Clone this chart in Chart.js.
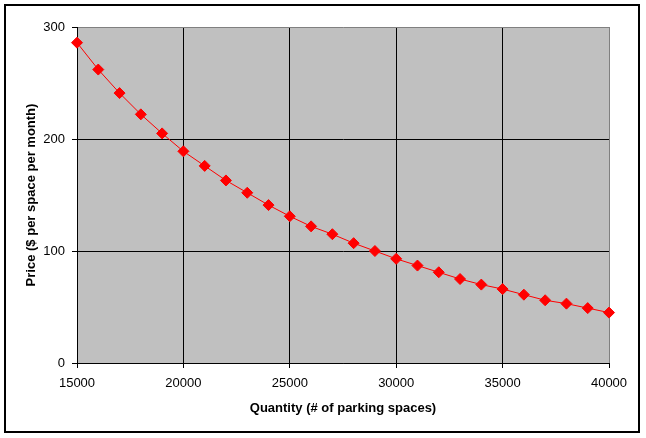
<!DOCTYPE html>
<html>
<head>
<meta charset="utf-8">
<script src="https://cdn.jsdelivr.net/npm/chart.js@4.4.1/dist/chart.umd.min.js"></script>
<style>
  html, body { margin: 0; padding: 0; background: #fff; }
  #wrap { width: 646px; height: 438px; position: relative; }
</style>
</head>
<body>
<div id="wrap"><canvas id="chartDemanda"></canvas></div>
<script>
// datos
const quantities = [15000,16000,17000,18000,19000,20000,21000,22000,23000,24000,25000,26000,27000,
  28000,29000,30000,31000,32000,33000,34000,35000,36000,37000,38000,39000,40000];
const prices = [286,262,241,222,205,189,176,163,152,141,131,122,115,
  107,100,93,87,81,75,70,66,61,56,53,49,45];
const xTicks = [15000,20000,25000,30000,35000,40000];
const yTicks = [0,100,200,300];

const FONT = 'Arial, "Liberation Sans", sans-serif';

const fondo = {
  id: 'fondo',
  beforeDraw(chart) {
    const { ctx, chartArea: a } = chart;
    ctx.save();
    ctx.fillStyle = '#fff';
    ctx.fillRect(0, 0, chart.width, chart.height);
    ctx.fillStyle = '#c0c0c0';
    ctx.fillRect(a.left, a.top, a.right - a.left, a.bottom - a.top);
    ctx.strokeStyle = '#000';
    ctx.lineWidth = 2;
    ctx.strokeRect(5, 5, 634, 427);
    ctx.restore();
  }
};

new Chart(document.getElementById('chartDemanda'), {
  type: 'scatter',
  data: {
    datasets: [{
      label: 'Demanda',
      data: quantities.map((q, i) => ({ x: q, y: prices[i] })),
      showLine: true,
      borderColor: '#ff0000',
      borderWidth: 1,
      backgroundColor: '#ff0000',
      pointStyle: 'rectRot',
      pointRadius: 5.5,
      pointBorderWidth: 1,
      pointBorderColor: '#ff0000',
      pointBackgroundColor: '#ff0000',
      clip: false,
    }]
  },
  options: {
    responsive: true,
    maintainAspectRatio: false,
    animation: false,
    layout: { padding: { left: 0, right: 37, top: 27, bottom: 0 } },
    plugins: { legend: { display: false }, tooltip: { enabled: false } },
    scales: {
      x: {
        type: 'linear',
        min: 15000, max: 40000,
        afterFit: s => { s.height = 75; },
        afterBuildTicks: s => { s.ticks = xTicks.map(v => ({ value: v })); },
        ticks: { color: '#000', font: { family: FONT, size: 13 }, padding: 8, maxRotation: 0, callback: v => String(v) },
        grid: { color: ctx => ctx.tick && ctx.tick.value === 40000 ? '#808080' : '#000', tickColor: '#000', tickLength: 5, lineWidth: 1 },
        border: { color: '#000', width: 1 },
        title: { display: true, text: 'Quantity (# of parking spaces)', color: '#000', font: { family: FONT, size: 13, weight: 'bold' }, padding: { top: 0, bottom: 22 } }
      },
      y: {
        min: 0, max: 300,
        afterFit: s => { s.width = 77; },
        afterBuildTicks: s => { s.ticks = yTicks.map(v => ({ value: v })); },
        ticks: { color: '#000', font: { family: FONT, size: 13 }, padding: 7 },
        grid: { color: ctx => ctx.tick && ctx.tick.value === 300 ? '#808080' : '#000', tickColor: '#000', tickLength: 5, lineWidth: 1 },
        border: { color: '#000', width: 1 },
        title: { display: true, text: 'Price ($ per space per month)', color: '#000', font: { family: FONT, size: 13, weight: 'bold' }, padding: { top: 24, bottom: 0 } }
      }
    }
  },
  plugins: [fondo]
});
</script>
</body>
</html>
